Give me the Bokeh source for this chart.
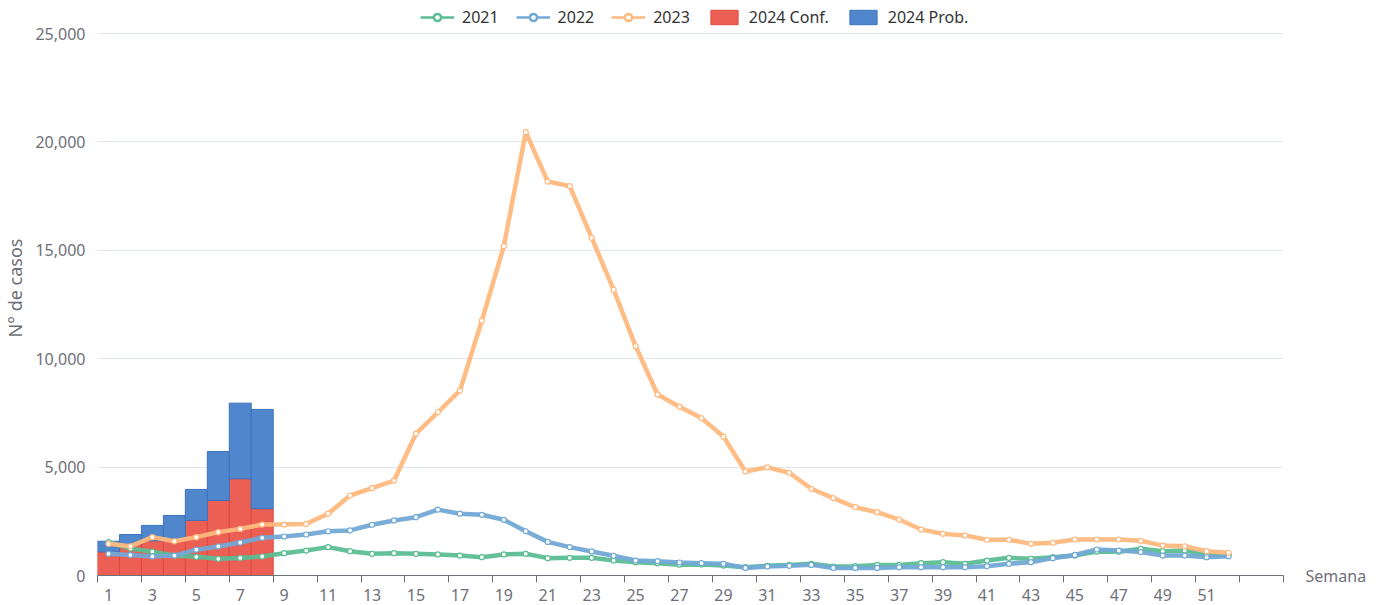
from bokeh.plotting import figure
from bokeh.models import (Range1d, FixedTicker, NumeralTickFormatter, Legend,
                          LegendItem, LinearAxis, ColumnDataSource)
from bokeh.embed import file_html
from bokeh.resources import INLINE

# ---------------- data ----------------
weeks = list(range(1, 53))
y2021 = [1540, 1240, 1100, 920, 860, 770, 810, 876, 1030, 1150,
         1310, 1120, 1000, 1030, 1000, 970, 920, 845, 970, 1000,
         800, 815, 815, 690, 615, 570, 500, 510, 460, 385,
         445, 490, 540, 415, 430, 490, 490, 570, 615, 540,
         690, 815, 770, 845, 920, 1100, 1100, 1230, 1120, 1150,
         970, 920]
y2022 = [1000, 940, 880, 920, 1190, 1340, 1520, 1740, 1800, 1890,
         2040, 2080, 2340, 2540, 2690, 3040, 2850, 2800, 2570, 2040,
         1550, 1310, 1110, 910, 690, 660, 600, 570, 540, 350,
         415, 445, 490, 350, 350, 350, 385, 385, 385, 385,
         430, 540, 615, 800, 950, 1200, 1150, 1080, 920, 920,
         845, 890]
y2023 = [1460, 1350, 1770, 1580, 1770, 2000, 2150, 2350, 2350, 2380,
         2850, 3690, 4030, 4380, 6540, 7530, 8530, 11750, 15190, 20450,
         18170, 17960, 15580, 13180, 10580, 8350, 7780, 7260, 6410, 4800,
         4990, 4740, 4000, 3570, 3150, 2920, 2580, 2120, 1920, 1850,
         1650, 1650, 1460, 1510, 1660, 1660, 1660, 1600, 1380, 1350,
         1120, 1050]
weeks24 = [1, 2, 3, 4, 5, 6, 7, 8]
conf24 = [1090, 1450, 1600, 1700, 2540, 3460, 4460, 3080]
prob24 = [490, 440, 710, 1070, 1430, 2260, 3490, 4580]
x_tick_labels = list(range(1, 52, 2))
y_ticks = [0, 5000, 10000, 15000, 20000, 25000]
n_categories = 54
y_max = 25000

# ---------------- layout / styles ----------------
W, H = 1380, 605
LEFT, RIGHT, TOP, BOTTOM = 96, 97, 0, 30
PLOT_TOP_GAP = 33        # px between canvas top and the 25,000 grid line
C21, C22, C23 = "#5bbd92", "#72a9d6", "#ffb97e"
CCONF, CPROB = "#ec5f55", "#4f86cc"
AXIS = "#6E7079"
FONT = "Noto Sans"

frame_h = H - TOP - BOTTOM
y_end = y_max * frame_h / (frame_h - PLOT_TOP_GAP)

p = figure(width=W, height=H, output_backend="svg", toolbar_location=None,
           x_range=Range1d(0.5, n_categories + 0.5), y_range=Range1d(0, y_end),
           min_border_left=LEFT, min_border_right=RIGHT, min_border_top=TOP,
           min_border_bottom=BOTTOM)
p.outline_line_color = None
p.background_fill_color = "white"

p.xgrid.visible = False
p.ygrid.ticker = FixedTicker(ticks=y_ticks)
p.ygrid.grid_line_color = "#E0E6F1"

# bars
src24 = ColumnDataSource(dict(x=weeks24, conf=conf24,
                              total=[a + b for a, b in zip(conf24, prob24)]))
r_conf = p.vbar(x="x", bottom=0, top="conf", width=1, source=src24,
                fill_color=CCONF, line_color="#e0483e", line_width=1)
r_prob = p.vbar(x="x", bottom="conf", top="total", width=1, source=src24,
                fill_color=CPROB, line_color="#3c73c0", line_width=1)

# lines
items = []
for label, ys, col in [("2021", y2021, C21), ("2022", y2022, C22), ("2023", y2023, C23)]:
    p.line(weeks, ys, line_color=col, line_width=4.5, line_alpha=0.95)
    p.scatter(weeks, ys, marker="circle", size=5, fill_color="white",
              line_color=col, line_width=1.2)
    # legend-only renderers (a point far outside the visible range)
    dl = p.line([-100, -99], [-100, -100], line_color=col, line_width=2.7)
    dm = p.scatter([-100], [-100], marker="circle", size=10, fill_color="white",
                   line_color=col, line_width=2.5)
    items.append(LegendItem(label=label, renderers=[dl, dm]))
items.append(LegendItem(label="2024 Conf.", renderers=[r_conf]))
items.append(LegendItem(label="2024 Prob.", renderers=[r_prob]))

legend = Legend(items=items, orientation="horizontal", location=(323, 547),
                label_text_font=FONT, label_text_font_size="16px",
                label_text_color="#333333", glyph_width=34, glyph_height=18,
                label_standoff=8, spacing=17, padding=0, margin=0,
                border_line_color=None, background_fill_alpha=0)
p.add_layout(legend)

# axes
xa = p.xaxis[0]
xa.ticker = FixedTicker(ticks=x_tick_labels,
                        minor_ticks=[0.5 + 2 * k for k in range(n_categories // 2 + 1)])
xa.axis_line_color = AXIS
xa.major_tick_out = 0
xa.major_tick_in = 0
xa.minor_tick_out = 7
xa.minor_tick_in = 0
xa.minor_tick_line_color = AXIS
xa.major_label_standoff = 6
xa.major_label_text_font = FONT
xa.major_label_text_font_size = "16px"
xa.major_label_text_color = AXIS

ya = p.yaxis[0]
ya.bounds = (0, y_max)
ya.ticker = FixedTicker(ticks=y_ticks)
ya.formatter = NumeralTickFormatter(format="0,0")
ya.axis_line_color = None
ya.major_tick_line_color = None
ya.minor_tick_line_color = None
ya.major_tick_out = 0
ya.major_label_standoff = 12
ya.major_label_text_font = FONT
ya.major_label_text_font_size = "16px"
ya.major_label_text_color = AXIS
ya.axis_label = "N° de casos"
ya.axis_label_text_font = FONT
ya.axis_label_text_font_size = "18px"
ya.axis_label_text_font_style = "normal"
ya.axis_label_text_color = AXIS
ya.axis_label_standoff = 5

# x-axis name "Semana" at the right end of the axis
name_axis = LinearAxis(ticker=FixedTicker(ticks=[0]),
                       major_label_overrides={0: "Semana"},
                       axis_line_color=None, major_tick_line_color=None,
                       minor_tick_line_color=None, major_tick_out=0,
                       major_label_standoff=22, major_label_text_font=FONT,
                       major_label_text_font_size="16px",
                       major_label_text_color=AXIS)
p.add_layout(name_axis, "right")

open("out.html", "w").write(file_html(p, INLINE))
